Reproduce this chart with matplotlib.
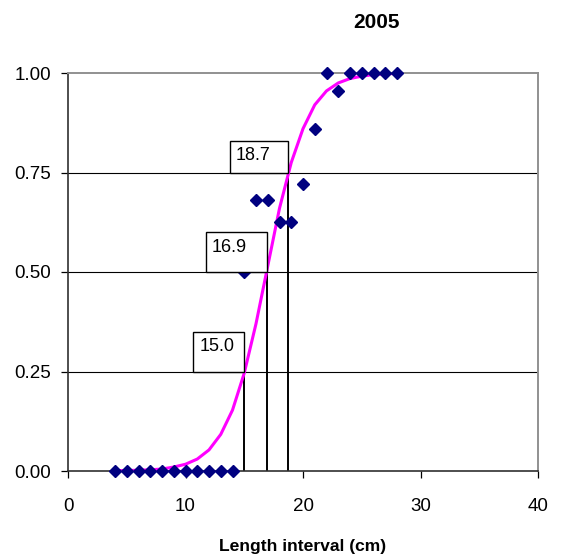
import matplotlib
matplotlib.use("Agg")
from matplotlib import pyplot as plt
from matplotlib.patches import Rectangle
from matplotlib.transforms import Affine2D, ScaledTranslation

# observed proportion mature per length interval
lengths = [4, 5, 6, 7, 8, 9, 10, 11, 12, 13, 14, 15, 16, 17, 18, 19, 20, 21, 22, 23, 24, 25, 26, 27, 28]
observed = [0, 0, 0, 0, 0, 0, 0, 0, 0, 0, 0, 0.50, 0.68, 0.68, 0.625, 0.625, 0.72, 0.86, 1.0, 0.955, 1.0, 1.0, 1.0, 1.0, 1.0]
# fitted ogive
fitted = [0.001, 0.001, 0.002, 0.003, 0.005, 0.010, 0.017, 0.030, 0.053, 0.092, 0.153, 0.246, 0.37, 0.515,
          0.66, 0.775, 0.86, 0.92, 0.955, 0.975, 0.986, 0.992, 0.996, 0.998, 0.999]
# L25, L50, L75
levels = [0.25, 0.50, 0.75]
lengths_at = [15.0, 16.9, 18.7]
yticks = [0, 0.25, 0.5, 0.75, 1.0]
xticks = [0, 10, 20, 30, 40]

# label box sizes in pixels (width, height)
box_sizes = [(51, 40), (61, 40), (58, 32)]

plt.rcParams['font.family'] = ['Liberation Sans', 'DejaVu Sans']

fig = plt.figure(figsize=(5.61, 5.56), dpi=100)
ax = fig.add_axes([68/561, 1-471/556, (538-68)/561, (471-73)/556])

# horizontal gridlines
for y in levels:
    ax.axhline(y, color='black', lw=0.8, zorder=1)

# drop lines from the curve to the x axis
for L, p in zip(lengths_at, levels):
    ax.plot([L, L], [0, p], color='black', lw=1.4, zorder=2)

ax.plot(lengths, fitted, color='#FF00FF', lw=2.2, zorder=3)
ax.plot(lengths, observed, linestyle='none', marker='D', markersize=6.5,
        color='#000080', zorder=4, clip_on=False)

# value boxes sitting up-left of each point, sized in pixels
px = Affine2D().scale(72 / fig.dpi * fig.dpi / 72)
for (L, p), (w, h) in zip(zip(lengths_at, levels), box_sizes):
    tr = px + ScaledTranslation(L, p, ax.transData)
    ax.add_patch(Rectangle((-w, 0), w, h, transform=tr, fc='white', ec='black',
                           lw=1.0, zorder=5, clip_on=False))
    ax.text(-w + 6, h - 15, f'{L:.1f}', transform=tr, ha='left', va='center',
            fontsize=13, zorder=6)

ax.set_xlim(0, 40)
ax.set_ylim(0, 1)
ax.set_xticks(xticks)
ax.set_yticks(yticks)
ax.set_yticklabels([f'{v:.2f}' for v in yticks])
ax.tick_params(direction='out', length=5, width=0.9, labelsize=13.5, colors='black')
ax.tick_params(axis='x', pad=14.5)
ax.tick_params(axis='y', pad=7)

for side in ['top', 'right']:
    ax.spines[side].set_color('#909090')
    ax.spines[side].set_linewidth(1.4)
for side in ['left', 'bottom']:
    ax.spines[side].set_color('#303030')
    ax.spines[side].set_linewidth(1.2)

fig.text(376/561, 1-23/556, '2005', ha='center', va='center', fontsize=15,
         fontweight='bold')
fig.text(303/561, 1-546/556, 'Length interval (cm)', ha='center', va='center', fontsize=12.6,
         fontweight='bold')

plt.savefig('out.png', dpi=100)
